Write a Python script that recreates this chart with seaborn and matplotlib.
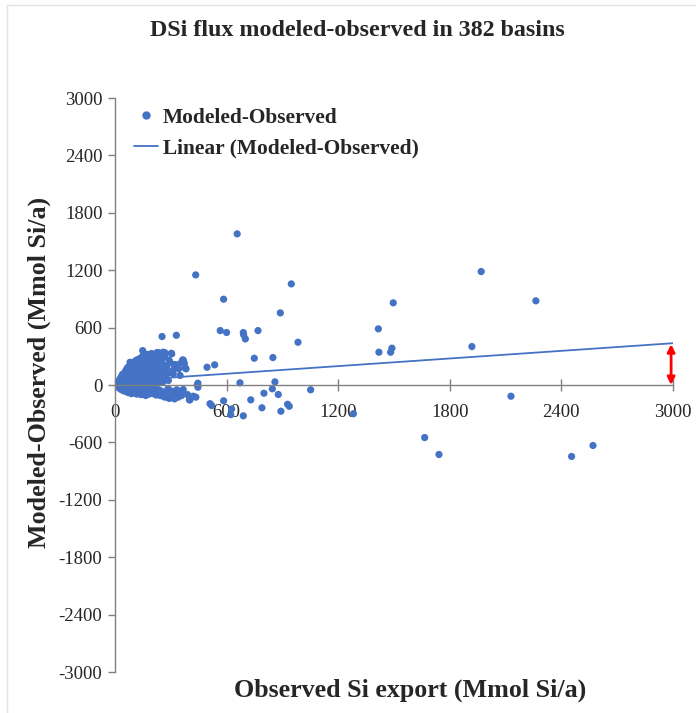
import matplotlib
matplotlib.use("Agg")
import matplotlib.pyplot as plt
from matplotlib.lines import Line2D
import seaborn as sns
import pandas as pd

# Basins with large observed export (outside the dense cluster)
outlier_obs = [657, 434, 948, 584, 1496, 889, 1416, 566, 600, 690, 692, 701, 769, 984,
               1419, 1482, 1489, 749, 849, 367, 378, 495, 536, 672, 860, 846, 878, 801,
               1052, 730, 790, 892, 928, 937, 690, 622, 584, 511, 520, 627, 1282, 446,
               446, 367, 403, 421, 358, 2129, 1665, 1742, 2455, 2570, 1969, 2263, 1919,
               253, 330, 442, 435]
outlier_diff = [1580, 1151, 1057, 897, 859, 754, 587, 569, 549, 549, 524, 482, 569, 447,
                343, 343, 385, 280, 287, 259, 176, 186, 211, 23, 33, -40, -99, -86,
                -50, -155, -238, -274, -201, -222, -322, -310, -165, -195, -215, -250, -300, 19,
                -23, -47, -155, -117, -110, -117, -549, -726, -747, -632, 1186, 880, 402,
                507, 520, 2, -127]

# Small basins (dense cluster near the origin)
cluster_obs = [
    2, 3, 4, 5, 6, 7, 8, 9, 10, 11, 12, 13, 14, 15, 16, 17, 18, 19, 20, 20,
    22, 23, 24, 25, 26, 27, 28, 29, 30, 31, 32, 33, 34, 35, 36, 37, 38, 39, 40, 41,
    42, 43, 44, 45, 46, 47, 48, 49, 50, 50,
    52, 54, 55, 56, 57, 58, 60, 61, 62, 63, 64, 65, 66, 67, 68, 69, 70, 71, 72, 73,
    74, 75, 76, 77, 78, 79, 81, 82, 83, 84, 85, 86, 87, 88, 89, 90, 91, 92, 93, 94,
    95, 96, 97, 98, 99, 100,
    101, 102, 103, 104, 105, 106, 107, 108, 109, 110, 111, 112, 113, 114, 115, 116,
    117, 118, 119, 120, 121, 122, 123, 124, 125, 126, 127, 128, 129, 130, 131, 132,
    133, 134, 135, 136, 137, 138, 139, 140, 141, 142, 143, 144, 145, 146, 147, 148,
    149, 150,
    151, 152, 153, 154, 155, 156, 157, 158, 159, 160, 161, 162, 163, 164, 165, 166,
    167, 168, 170, 171, 172, 173, 175, 176, 177, 178, 179, 180, 181, 182, 184, 185,
    186, 188, 189, 190, 192, 193, 194, 196, 197, 198, 199, 200,
    202, 204, 206, 206, 206, 208, 210, 212, 214, 216, 218, 220, 222, 224, 225, 227,
    228, 230, 232, 233, 235, 238, 238, 240, 242, 242, 242, 244, 246, 248, 250, 252,
    255, 256, 258, 260, 260, 263, 265, 265, 267, 269, 270, 272, 275, 278, 280, 283,
    285, 287, 290, 292, 296, 296, 300,
    303, 305, 310, 313, 315, 317, 320, 323, 332, 332, 335, 340, 342, 345, 350, 358,
    358, 364, 367, 373, 376, 382, 390, 400,
    1, 3, 5, 6, 8, 10, 12, 15, 18, 21, 25, 28, 32, 36, 40, 44, 48, 53, 58, 63,
    68, 74, 80, 86, 92, 98, 104, 110, 116, 122, 128, 134, 140, 146, 152, 158,
    164, 170, 176, 182, 188, 194,
]
cluster_diff = [
    0, 5, -3, 10, 2, -8, 15, 4, -12, 20, 6, -5, 28, -18, 9, 35, -2, 14, -25, 45,
    3, -30, 22, 55, -10, 8, 38, -40, 70, 15, -20, 48, 0, 90, -50, 25, 62, -15, 110, 5,
    -35, 40, 80, 117, -60, 18, 52, -25, 95, 10,
    -45, 130, 30, 65, -8, 150, -70, 42, 100, 12, -30, 175, 75, -55, 22, 125, -15, 55, 190, -80,
    35, 88, 140, 0, -40, 160, 238, 60, -65, 110, 20, 200, -25, 80, -90, 150, 45, -50, 215, 100,
    -10, 170, 30, 204, -75, 130,
    65, -35, 185, 10, 245, -60, 90, -40, 155, 40, -85, 220, 115, -20, 260, 70,
    -95, 175, 25, 140, -50, 230, 85, -70, 195, 5, 270, 120, -30, 50, 160, -80,
    240, 221, 95, -45, 280, 15, 185, -100, 130, 60, 250, -20, 205, -65, 100, 300,
    360, -75,
    30, 256, 170, -55, 120, 285, -90, 65, 215, -30, 145, 310, 0, 240, -110, 90,
    190, -60, 270, 40, -85, 155, 320, -40, 110, 225, -70, 60, 290, 175, -95, 135,
    20, 290, 250, -50, 205, 85, -80, 150, 330, -20, 40, 260,
    -65, 190, 308, 274, -57, 115, -92, 230, 55, -40, 170, 300, -105, 13, 260, 340,
    90, -75, 200, 332, -50, 263, 336, 140, 291, 40, -57, -110, 180, -90, 95, 230,
    -70, 29, 160, 343, -75, 340, 86, -125, 291, 336, -100, 200, 60, 186, -130, 120,
    -40, 47, 260, -140, 238, -127, -60,
    332, 326, 150, 117, -95, 211, -145, 214, 186, -50, 211, -127, 169, -70, 100, 238,
    -92, 263, 256, 228, 186, 169, -100, -155,
    2, -1, -5, 12, -10, 25, -15, 3, 30, -8, 18, -22, 33, 12, -5, 30, -12, 15, -20, 50,
    -5, 70, -15, 45, 5, 90, -10, 130, 20, -5, 60, 10, 75, 30, -10, 100,
    50, -10, 80, -30, 110, 25,
]

# Linear trend (Modeled-Observed vs observed) at the ends of the axis
trend_obs = [0, 3000]
trend_diff = [38, 437]

x_ticks = [0, 600, 1200, 1800, 2400, 3000]
y_ticks = [-3000, -2400, -1800, -1200, -600, 0, 600, 1200, 1800, 2400, 3000]

title = "DSi flux modeled-observed in 382 basins"
x_label = "Observed Si export (Mmol Si/a)"
y_label = "Modeled-Observed (Mmol Si/a)"

points = pd.DataFrame({
    "obs": cluster_obs + outlier_obs,
    "diff": cluster_diff + outlier_diff,
})
trend = pd.DataFrame({"obs": trend_obs, "diff": trend_diff})

sns.set_theme(style="white")
plt.rcParams["font.family"] = ["Liberation Serif", "DejaVu Serif"]

blue = "#4472C4"
axis_gray = "#808080"

fig = plt.figure(figsize=(6.96, 7.13), dpi=100)
ax = fig.add_axes([0.1652, 0.0575, 0.8017, 0.805])

sns.lineplot(data=trend, x="obs", y="diff", ax=ax, color=blue, lw=1.3, zorder=3)
sns.scatterplot(data=points, x="obs", y="diff", ax=ax, color=blue, s=27,
                edgecolor="none", linewidth=0, zorder=2)

ax.set_xlim(0, 3000)
ax.set_ylim(-3000, 3000)
ax.set_xticks(x_ticks)
ax.set_yticks(y_ticks)
ax.set_xticklabels([str(t) for t in x_ticks])
ax.set_yticklabels([str(t) for t in y_ticks])
ax.set_xlabel("")
ax.set_ylabel("")

for side in ("top", "right"):
    ax.spines[side].set_visible(False)
ax.spines["bottom"].set_position(("data", 0))
for side in ("left", "bottom"):
    ax.spines[side].set_color(axis_gray)
    ax.spines[side].set_linewidth(1.0)

ax.tick_params(axis="x", direction="inout", length=9, width=1.0, color=axis_gray,
               labelsize=13.5, pad=9, bottom=True)
ax.tick_params(axis="y", direction="out", length=5, width=1.0, color=axis_gray,
               labelsize=13.5, pad=4, left=True)

# Gap between trend line and zero at the right end of the axis
ax.annotate("", xy=(2990, trend_diff[1] - 10), xytext=(2990, 0),
            arrowprops=dict(arrowstyle="<|-|>", color="red", lw=2.0,
                            mutation_scale=11, shrinkA=0, shrinkB=0), zorder=5)

handles = [
    Line2D([], [], marker="o", linestyle="none", color=blue, markersize=5),
    Line2D([], [], color=blue, lw=1.3),
]
leg = ax.legend(handles, ["Modeled-Observed", "Linear (Modeled-Observed)"],
                loc="upper left", bbox_to_anchor=(0.0, 1.017), frameon=False,
                prop={"weight": "bold", "size": 15.4}, handlelength=1.1,
                handletextpad=0.25, labelspacing=0.5)

fig.text(0.514, 0.957, title, ha="center", va="center", fontsize=17.3,
         fontweight="bold")
fig.text(0.589, 0.032, x_label, ha="center", va="center", fontsize=18.7,
         fontweight="bold")
fig.text(0.057, 0.478, y_label, ha="center", va="center", fontsize=18.7,
         fontweight="bold", rotation=90)

# Thin light frame along top and left edges
fig.add_artist(Line2D([0.010, 1.0], [0.993, 0.993], transform=fig.transFigure,
                      color="#e3e3e3", lw=1.0))
fig.add_artist(Line2D([0.010, 0.010], [0.0, 0.993], transform=fig.transFigure,
                      color="#e3e3e3", lw=1.0))

fig.savefig("out.png", dpi=100)
